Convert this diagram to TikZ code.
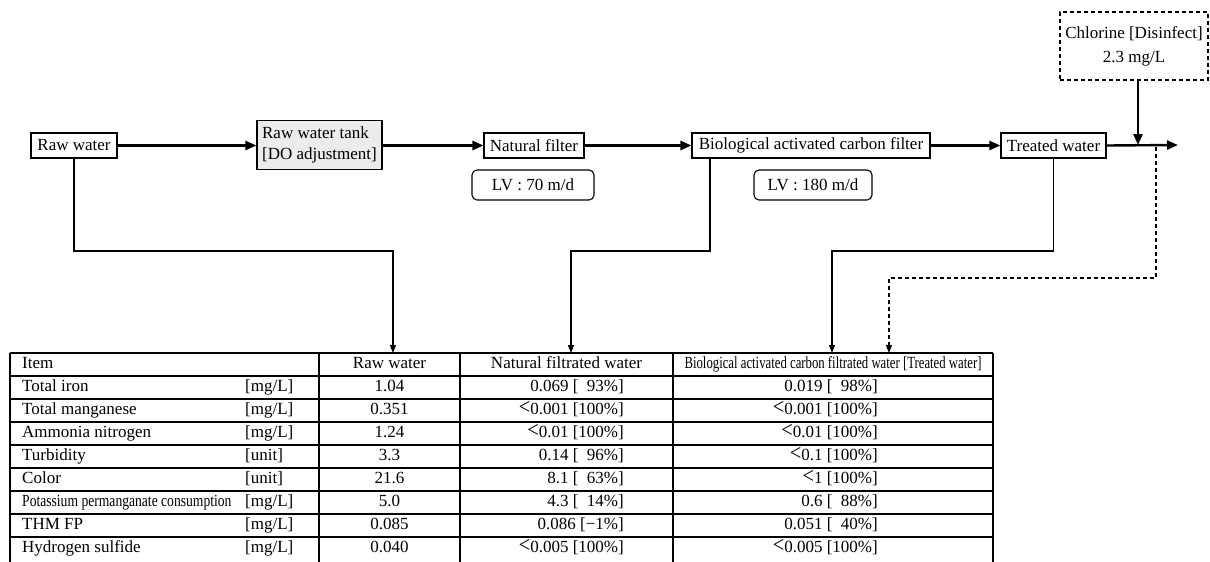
\documentclass[tikz,border=0pt]{standalone}
\usepackage{fontspec}
\setmainfont{Liberation Serif}
\usetikzlibrary{arrows.meta}
\newcommand{\lessmark}{\scalebox{1.2}[1.35]{<}}
\begin{document}
\begin{tikzpicture}[x=1pt,y=-1pt,
  every node/.style={font=\fontsize{17}{21}\selectfont, inner sep=0pt},
  box/.style={draw, line width=1.1pt, minimum height=25pt, align=center},
  lvbox/.style={draw, line width=1.1pt, rounded corners=5pt, minimum height=30pt},
  flow/.style={line width=2.4pt, -{Triangle[length=11pt,width=9pt]}},
  conn/.style={line width=1.2pt, -{Triangle[length=8pt,width=6pt]}},
  dconn/.style={conn, dash pattern=on 4pt off 3pt},
  grid/.style={line width=1.2pt},
  tcell/.style={text height=12pt, text depth=4pt},
  lab/.style={tcell, anchor=west},
  val/.style={tcell, anchor=east},
  cval/.style={tcell, anchor=center}]
\useasboundingbox (0,0) rectangle (1210,562);

% process boxes
\node[box, minimum width=86pt] (rawbox) at (74,145.5) {Raw water};
\node[box, minimum width=125pt, minimum height=49pt, fill=gray!15, align=left] (tank) at (319.5,145) {Raw water tank\\{[}DO adjustment{]}};
\node[box, minimum width=100pt] (natf) at (534,145.5) {Natural filter};
\node[lvbox, minimum width=122pt] (lv70) at (533,185) {LV : 70 m/d};
\node[box, minimum width=238pt] (bio) at (811,145.5) {Biological activated carbon filter};
\node[lvbox, minimum width=118pt] (lv180) at (813,185) {LV : 180 m/d};
\node[box, minimum width=105pt] (treated) at (1053.5,145.5) {Treated water};
\node[draw, line width=1.1pt, dash pattern=on 4pt off 3pt, minimum width=148pt, minimum height=68pt, align=center] (chlor) at (1134,46) {Chlorine {[}Disinfect{]}\\[3pt]2.3 mg/L};

\coordinate (endpt) at (1178,145);
\coordinate (junct) at (1138,145);
\coordinate (dstart) at (1156,147);
\coordinate (tin1) at (393,353);
\coordinate (tin2) at (571,353);
\coordinate (tin3) at (832,353);
\coordinate (tin4) at (889,353);

% main flow
\draw[flow] (rawbox.east) -- (tank.west |- rawbox.east);
\draw[flow] (tank.east |- natf.west) -- (natf.west);
\draw[flow] (natf.east) -- (bio.west);
\draw[flow] (bio.east) -- (treated.west);
\draw[flow] (treated.east) -- (endpt);
\draw[flow] ([xshift=4pt]chlor.south) -- (junct);

% sampling connectors
\draw[conn] (rawbox.south) |- ([yshift=102pt]tin1) -- (tin1);
\draw[conn] ([xshift=-101pt]bio.south) |- ([yshift=102pt]tin2) -- (tin2);
\draw[conn] (treated.south) |- ([yshift=102pt]tin3) -- (tin3);
\draw[dconn] (dstart) |- ([yshift=75pt]tin4) -- (tin4);

% table grid
\draw[grid] (10,353) -- (993,353);
\foreach \y in {376,399,...,537} \draw[grid] (10,\y) -- (993,\y);
\foreach \x in {10,319,460,673,993} \draw[grid] (\x,353) -- (\x,562);

% header
\node[lab] (h0) at (22,364.5) {Item};
\node[cval] (h1) at (389.5,364.5) {Raw water};
\node[cval] (h2) at (566.5,364.5) {Natural filtrated water};
\node[cval] (h3) at (833,364.5) {\scalebox{0.75}[1]{Biological activated carbon filtrated water {[}Treated water{]}}};

% rows
\node[lab] (a1) at (22,387.5) {Total iron};
\node[lab] (u1) at (245,387.5) {{[}mg/L{]}};
\node[cval] (r1) at (389.5,387.5) {1.04};
\node[val] (n1) at (624,387.5) {0.069 {[}\phantom{1}93\%{]}};
\node[val] (b1) at (878,387.5) {0.019 {[}\phantom{1}98\%{]}};

\node[lab] (a2) at (22,410.5) {Total manganese};
\node[lab] (u2) at (245,410.5) {{[}mg/L{]}};
\node[cval] (r2) at (389.5,410.5) {0.351};
\node[val] (n2) at (624,410.5) {\lessmark0.001 {[}100\%{]}};
\node[val] (b2) at (878,410.5) {\lessmark0.001 {[}100\%{]}};

\node[lab] (a3) at (22,433.5) {Ammonia nitrogen};
\node[lab] (u3) at (245,433.5) {{[}mg/L{]}};
\node[cval] (r3) at (389.5,433.5) {1.24};
\node[val] (n3) at (624,433.5) {\lessmark0.01 {[}100\%{]}};
\node[val] (b3) at (878,433.5) {\lessmark0.01 {[}100\%{]}};

\node[lab] (a4) at (22,456.5) {Turbidity};
\node[lab] (u4) at (245,456.5) {{[}unit{]}};
\node[cval] (r4) at (389.5,456.5) {3.3};
\node[val] (n4) at (624,456.5) {0.14 {[}\phantom{1}96\%{]}};
\node[val] (b4) at (878,456.5) {\lessmark0.1 {[}100\%{]}};

\node[lab] (a5) at (22,479.5) {Color};
\node[lab] (u5) at (245,479.5) {{[}unit{]}};
\node[cval] (r5) at (389.5,479.5) {21.6};
\node[val] (n5) at (624,479.5) {8.1 {[}\phantom{1}63\%{]}};
\node[val] (b5) at (878,479.5) {\lessmark1 {[}100\%{]}};

\node[lab] (a6) at (22,502.5) {\scalebox{0.8}[1]{Potassium permanganate consumption}};
\node[lab] (u6) at (245,502.5) {{[}mg/L{]}};
\node[cval] (r6) at (389.5,502.5) {5.0};
\node[val] (n6) at (624,502.5) {4.3 {[}\phantom{1}14\%{]}};
\node[val] (b6) at (878,502.5) {0.6 {[}\phantom{1}88\%{]}};

\node[lab] (a7) at (22,525.5) {THM FP};
\node[lab] (u7) at (245,525.5) {{[}mg/L{]}};
\node[cval] (r7) at (389.5,525.5) {0.085};
\node[val] (n7) at (624,525.5) {0.086 {[}−1\%{]}};
\node[val] (b7) at (878,525.5) {0.051 {[}\phantom{1}40\%{]}};

\node[lab] (a8) at (22,548.5) {Hydrogen sulfide};
\node[lab] (u8) at (245,548.5) {{[}mg/L{]}};
\node[cval] (r8) at (389.5,548.5) {0.040};
\node[val] (n8) at (624,548.5) {\lessmark0.005 {[}100\%{]}};
\node[val] (b8) at (878,548.5) {\lessmark0.005 {[}100\%{]}};
\end{tikzpicture}
\end{document}
